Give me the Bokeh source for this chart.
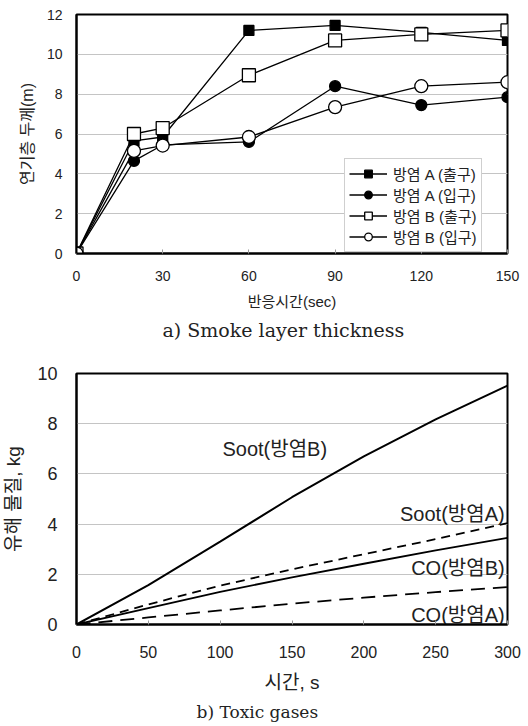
from bokeh.plotting import figure
from bokeh.models import Range1d, FixedTicker, Legend, LegendItem, Title
from bokeh.layouts import column
from bokeh.embed import file_html
from bokeh.resources import INLINE
from bokeh.core.properties import value

# ---------------- data: a) Smoke layer thickness ----------------
time_a = [0, 20, 30, 60, 90, 120, 150]
a_out = [0, 5.65, 5.85, 11.2, 11.45, 11.1, 10.7]
a_in = [0, 4.65, 5.45, 5.6, 8.4, 7.45, 7.85]
b_out = [0, 6.0, 6.3, 8.95, 10.7, 11.0, 11.2]
b_in = [0, 5.15, 5.42, 5.85, 7.35, 8.4, 8.6]
series_names = ["방염 A (출구)", "방염 A (입구)", "방염 B (출구)", "방염 B (입구)"]
xticks_a = [0, 30, 60, 90, 120, 150]
yticks_a = [0, 2, 4, 6, 8, 10, 12]

# ---------------- data: b) Toxic gases ----------------
time_b = [0, 50, 100, 150, 200, 250, 300]
soot_b = [0, 1.57, 3.3, 5.07, 6.7, 8.17, 9.52]
soot_a = [0, 0.8, 1.55, 2.2, 2.8, 3.4, 4.04]
co_b = [0, 0.65, 1.3, 1.88, 2.42, 2.95, 3.45]
co_a = [0, 0.28, 0.56, 0.83, 1.07, 1.29, 1.49]
line_names = ["Soot(방염B)", "Soot(방염A)", "CO(방염B)", "CO(방염A)"]
xticks_b = [0, 50, 100, 150, 200, 250, 300]
yticks_b = [0, 2, 4, 6, 8, 10]

SANS = "'Liberation Sans', 'Noto Sans CJK KR'"
SERIF = "'DejaVu Serif'"
GRID = "#c4c4c4"

# ================= figure a =================
H1 = 350
p1 = figure(width=528, height=H1, x_range=Range1d(0, 150), y_range=Range1d(0, 12),
            output_backend="svg", toolbar_location=None,
            min_border_left=69, min_border_right=21, min_border_top=14,
            min_border_bottom=H1 - 253)
p1.outline_line_color = "black"
p1.outline_line_width = 2
p1.xgrid.visible = False
p1.ygrid.grid_line_color = GRID
p1.ygrid.ticker = FixedTicker(ticks=yticks_a)

p1.xaxis.ticker = FixedTicker(ticks=xticks_a)
p1.yaxis.ticker = FixedTicker(ticks=yticks_a)
for ax in (p1.xaxis[0], p1.yaxis[0]):
    ax.axis_line_color = "black"
    ax.axis_line_width = 2
    ax.minor_tick_line_color = None
    ax.major_tick_out = 0
    ax.major_label_text_font = SANS
    ax.major_label_text_font_size = "14px"
    ax.major_label_text_color = "#222222"
    ax.axis_label_text_font = SANS
    ax.axis_label_text_font_style = "normal"
    ax.axis_label_text_color = "#222222"
p1.xaxis.major_tick_in = 4
p1.xaxis.major_tick_line_color = "#999999"
p1.yaxis.major_tick_in = 0
p1.yaxis.major_tick_line_color = None
p1.xaxis.major_label_standoff = 17
p1.yaxis.major_label_standoff = 14
p1.xaxis.axis_label = "반응시간(sec)"
p1.yaxis.axis_label = "연기층 두께(m)"
p1.xaxis.axis_label_text_font_size = "15px"
p1.yaxis.axis_label_text_font_size = "16px"
p1.xaxis.axis_label_standoff = 9
p1.yaxis.axis_label_standoff = 8

specs = [
    (a_out, "square", 10, "black"),
    (a_in, "circle", 11, "black"),
    (b_out, "square", 13, "white"),
    (b_in, "circle", 13, "white"),
]
items = []
for (ys, mk, sz, fill), name in zip(specs, series_names):
    lr = p1.line(time_a, ys, line_color="black", line_width=1.3)
    sr = p1.scatter(time_a, ys, marker=mk, size=sz, fill_color=fill,
                    line_color="black", line_width=1.3)
    items.append(LegendItem(label=name, renderers=[lr, sr]))

leg = Legend(items=items, location=(268, 1), orientation="vertical")
leg.border_line_color = "#a0a0a0"
leg.border_line_width = 1
leg.background_fill_color = "white"
leg.background_fill_alpha = 1
leg.label_text_font = SANS
leg.label_text_font_size = "15px"
leg.label_text_line_height = 1.0
leg.label_text_color = "#222222"
leg.glyph_width = 38
leg.glyph_height = 19
leg.label_height = 19
leg.label_standoff = 6
leg.spacing = -1
leg.padding = 4
leg.margin = 0
p1.add_layout(leg, "center")

p1.add_layout(Title(text="a) Smoke layer thickness", align="left", offset=86,
                    text_font=SERIF, text_font_size="19px", text_font_style="normal",
                    text_color="#222222", standoff=8), "below")

# ================= figure b =================
H2 = 376
p2 = figure(width=528, height=H2, x_range=Range1d(0, 300), y_range=Range1d(0, 10),
            output_backend="svg", toolbar_location=None,
            min_border_left=73, min_border_right=16, min_border_top=373 - H1,
            min_border_bottom=H2 - (624 - H1))
p2.outline_line_color = "black"
p2.outline_line_width = 2
p2.xgrid.visible = False
p2.ygrid.grid_line_color = GRID
p2.ygrid.ticker = FixedTicker(ticks=yticks_b)
p2.xaxis.ticker = FixedTicker(ticks=xticks_b)
p2.yaxis.ticker = FixedTicker(ticks=yticks_b)
for ax in (p2.xaxis[0], p2.yaxis[0]):
    ax.axis_line_color = "black"
    ax.axis_line_width = 2
    ax.minor_tick_line_color = None
    ax.major_tick_out = 0
    ax.major_label_text_font = SANS
    ax.major_label_text_color = "#222222"
    ax.axis_label_text_font = SANS
    ax.axis_label_text_font_style = "normal"
    ax.axis_label_text_color = "#222222"
p2.xaxis.major_tick_in = 4
p2.xaxis.major_tick_line_color = "#999999"
p2.yaxis.major_tick_in = 0
p2.yaxis.major_tick_line_color = None
p2.xaxis.major_label_text_font_size = "16px"
p2.yaxis.major_label_text_font_size = "18px"
p2.xaxis.major_label_standoff = 21
p2.yaxis.major_label_standoff = 19
p2.xaxis.axis_label = "시간, s"
p2.yaxis.axis_label = "유해 물질, kg"
p2.xaxis.axis_label_text_font_size = "19px"
p2.yaxis.axis_label_text_font_size = "19px"
p2.xaxis.axis_label_standoff = 11
p2.yaxis.axis_label_standoff = 10

p2.line(time_b, soot_b, line_color="black", line_width=2)
p2.line(time_b, soot_a, line_color="black", line_width=1.8, line_dash="9 6")
p2.line(time_b, co_b, line_color="black", line_width=1.8)
p2.line(time_b, co_a, line_color="black", line_width=1.8, line_dash="14 8")

lab_x = [138, 298, 298, 298]
lab_y = [7.0, 4.42, 2.27, 0.36]
lab_align = ["center", "right", "right", "right"]
p2.text(x=lab_x, y=lab_y, text=line_names, text_align=lab_align,
        text_baseline="middle", text_font=value(SANS), text_font_size="20px",
        text_color="#222222")

p2.add_layout(Title(text="b) Toxic gases", align="left", offset=120,
                    text_font=SERIF, text_font_size="17px", text_font_style="normal",
                    text_color="#222222", standoff=8), "below")

layout = column(p1, p2, spacing=0)
open("out.html", "w").write(file_html(layout, INLINE))
